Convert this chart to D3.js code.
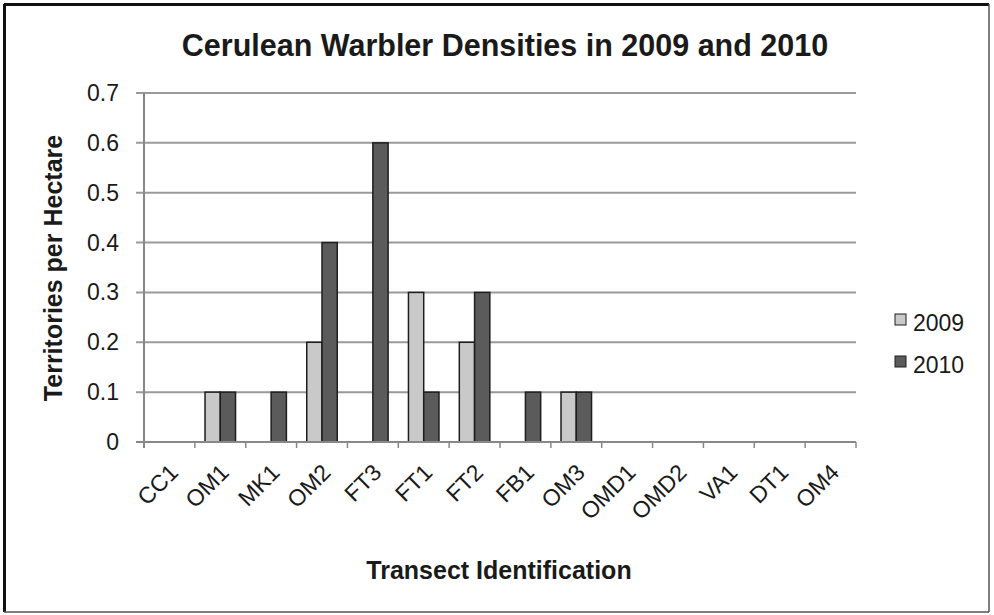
<!DOCTYPE html>
<html><head><meta charset="utf-8">
<script src="https://cdn.jsdelivr.net/npm/d3@7"></script>
<style>body{margin:0;background:#fff;} text{font-family:"Liberation Sans",Arial,sans-serif;fill:#1a1a1a;}</style>
</head><body>
<svg id="c" width="994" height="615"></svg>
<script>
const categories = ["CC1","OM1","MK1","OM2","FT3","FT1","FT2","FB1","OM3","OMD1","OMD2","VA1","DT1","OM4"];
const seriesNames = ["2009","2010"];
const values2009 = [0,0.1,0,0.2,0,0.3,0.2,0,0.1,0,0,0,0,0];
const values2010 = [0,0.1,0.1,0.4,0.6,0.1,0.3,0.1,0.1,0,0,0,0,0];
const yTicks = [0,0.1,0.2,0.3,0.4,0.5,0.6,0.7];
const colors = ["#c9c9c9","#5b5b5b"];

const svg = d3.select("#c");
svg.append("rect").attr("x",0).attr("y",0).attr("width",994).attr("height",615).attr("fill","#fff");
// frame: dark top/left, lighter right/bottom
svg.append("line").attr("x1",4).attr("x2",989).attr("y1",4.5).attr("y2",4.5).attr("stroke","#111").attr("stroke-width",3);
svg.append("line").attr("x1",4.5).attr("x2",4.5).attr("y1",4).attr("y2",612).attr("stroke","#111").attr("stroke-width",3);
svg.append("line").attr("x1",989).attr("x2",989).attr("y1",4).attr("y2",612).attr("stroke","#555").attr("stroke-width",1.5);
svg.append("line").attr("x1",4).attr("x2",989).attr("y1",612).attr("y2",612).attr("stroke","#555").attr("stroke-width",1.5);

const L=144,R=856,T=93,B=442;
const x = d3.scaleBand().domain(categories).range([L,R]).paddingInner(0.4).paddingOuter(0.2);
const x0 = d3.scaleBand().domain(categories).range([L,R]);
const xs = d3.scaleBand().domain(seriesNames).range([0,x.bandwidth()]);
const y = d3.scaleLinear().domain([0,0.7]).range([B,T]);

// gridlines
svg.append("g").selectAll("line").data(yTicks.slice(1)).join("line")
  .attr("x1",L-8).attr("x2",R).attr("y1",d=>y(d)).attr("y2",d=>y(d))
  .attr("stroke","#9a9a9a").attr("stroke-width",2);

// y axis labels
svg.append("g").selectAll("text").data(yTicks).join("text")
  .attr("x",119).attr("y",d=>y(d)+8).attr("text-anchor","end")
  .attr("font-size",23).text(d=>d===0?"0":d.toFixed(1));

// bars
const data = categories.map((c,i)=>({c, v:[values2009[i],values2010[i]]}));
const g = svg.append("g");
data.forEach(d=>{
  d.v.forEach((v,j)=>{
    if(v<=0) return;
    g.append("rect").attr("x",x(d.c)+xs(seriesNames[j])).attr("y",y(v))
      .attr("width",xs.bandwidth()).attr("height",y(0)-y(v))
      .attr("fill",colors[j]).attr("stroke","#1e1e1e").attr("stroke-width",1.5);
  });
});

// axes lines
svg.append("line").attr("x1",L).attr("x2",L).attr("y1",T).attr("y2",B+6).attr("stroke","#888").attr("stroke-width",2);
svg.append("line").attr("x1",L-8).attr("x2",R).attr("y1",B).attr("y2",B).attr("stroke","#888").attr("stroke-width",2);
const tickPos = categories.map(c=>x0(c)).concat([R]);
svg.append("g").selectAll("line").data(tickPos).join("line")
  .attr("x1",d=>d).attr("x2",d=>d).attr("y1",B).attr("y2",B+6).attr("stroke","#888").attr("stroke-width",1.5);

// x labels
svg.append("g").selectAll("text").data(categories).join("text")
  .attr("transform",c=>`translate(${x0(c)+x0.bandwidth()/2+10},${B+32}) rotate(-45)`)
  .attr("text-anchor","end").attr("font-size",23).text(c=>c);

// titles
svg.append("text").attr("x",505).attr("y",56).attr("text-anchor","middle")
  .attr("font-size",30.5).attr("font-weight","bold").text("Cerulean Warbler Densities in 2009 and 2010");
svg.append("text").attr("x",499).attr("y",579).attr("text-anchor","middle")
  .attr("font-size",25).attr("font-weight","bold").text("Transect Identification");
svg.append("text").attr("transform","translate(62,268) rotate(-90)").attr("text-anchor","middle")
  .attr("font-size",25).attr("font-weight","bold").text("Territories per Hectare");

// legend
const lg = svg.append("g");
seriesNames.forEach((s,i)=>{
  const yy = 314 + i*42;
  lg.append("rect").attr("x",895).attr("y",yy).attr("width",11).attr("height",11)
    .attr("fill",colors[i]).attr("stroke","#1e1e1e").attr("stroke-width",1);
  lg.append("text").attr("x",913).attr("y",yy+17).attr("font-size",23).text(s);
});
</script>
</body></html>
